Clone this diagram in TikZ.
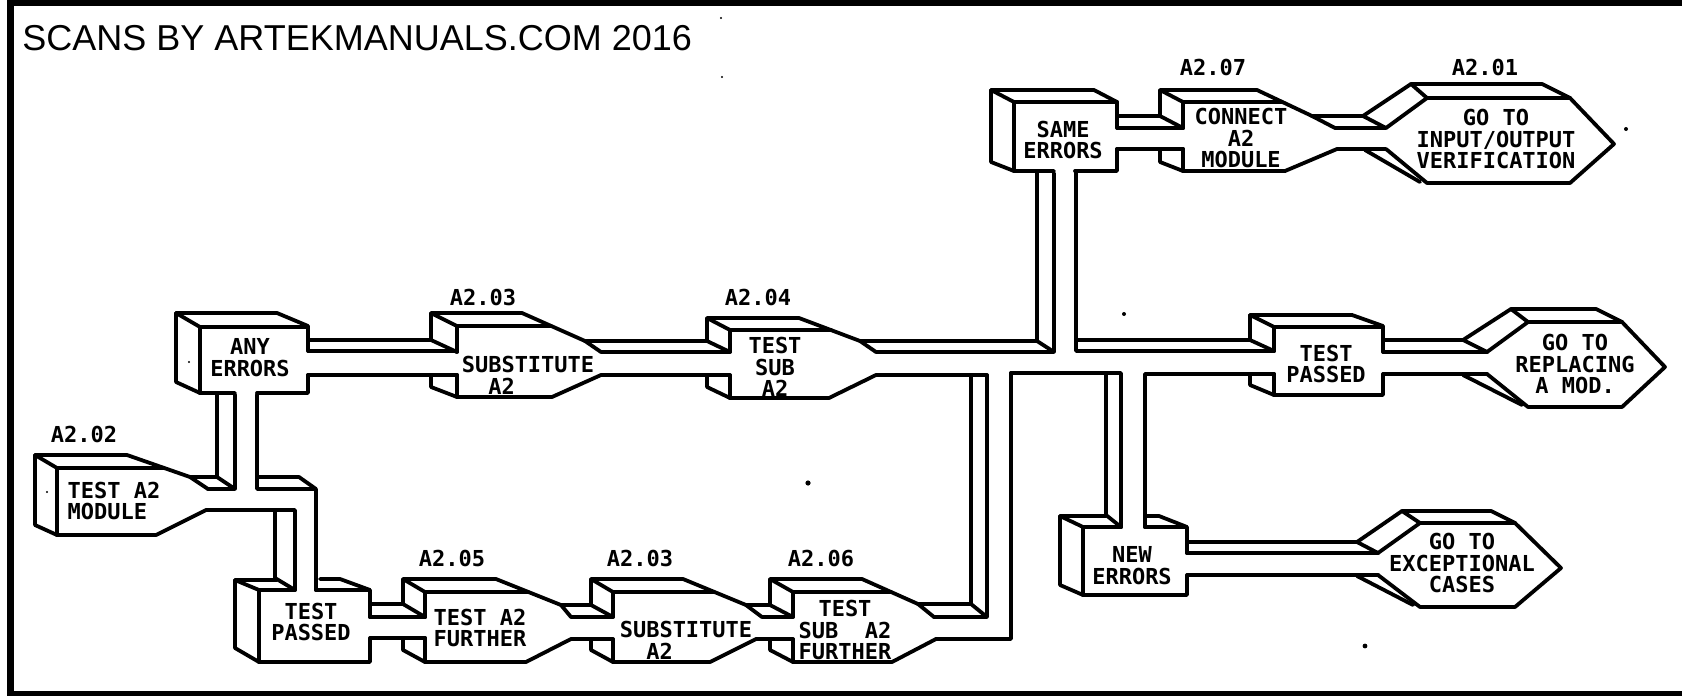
\documentclass[tikz,border=0pt]{standalone}
\usepackage{fontspec}
\setmainfont{Liberation Sans}
\newfontfamily\dotfont{DejaVu Sans Mono}
\tikzset{
  outline/.style={line width=1.9pt,line join=round,line cap=round,black},
  lbl/.style={font=\dotfont\bfseries\fontsize{11}{10.9}\selectfont,inner sep=0pt,align=center,text=black},
  lblleft/.style={lbl,align=left},
  frame/.style={fill=black,draw=none},
  speck/.style={fill=black,draw=none}
}
\begin{document}
\begin{tikzpicture}[x=0.5pt,y=-0.5pt]
\useasboundingbox (0,0) rectangle (1682,696);
% frame
\fill[frame] (7,0) rectangle (1682,6);
\fill[frame] (7,0) rectangle (14,696);
\fill[frame] (7,691) rectangle (1682,696);
\node[font=\fontsize{18}{20}\selectfont,inner sep=0pt,anchor=base west] (scan) at (22,50) {SCANS BY ARTEKMANUALS.COM 2016};

\begin{scope}[outline]
% A2.02 test module
\draw (57,468)--(35,455)--(127,455)--(190,477)--(208,489);
\draw (57,468)--(164,468);
\draw (35,455)--(35,525)--(57,535)--(156,535)--(206,510)--(295,510)--(295,590);
\draw (57,468)--(57,535);
% up to any errors
\draw (190,477)--(217,477)--(217,395);
\draw (208,489)--(235,489)--(235,395);
\draw (217,477)--(235,489);
% down to test passed (lower)
\draw (257,395)--(257,489)--(316,489)--(316,590);
\draw (257,477)--(299,477)--(316,489);
\draw (275,512)--(275,578)--(295,590);
% Any errors
\draw (200,327)--(176,313)--(277,313)--(308,326)--(308,351);
\draw (200,327)--(308,327);
\draw (176,313)--(176,382)--(200,393)--(235,393);
\draw (257,393)--(308,393)--(308,375);
\draw (200,327)--(200,393);
\draw (308,340)--(431,340);
\draw (308,351)--(457,351);
\draw (308,375)--(457,375);
% A2.03 upper
\draw (431,340)--(431,313)--(522,313)--(585,341)--(601,352)--(730,352);
\draw (431,313)--(457,326);
\draw (431,340)--(457,352);
\draw (457,326)--(457,352);
\draw (457,326)--(551,326);
\draw (431,375)--(431,387)--(457,397)--(552,397)--(601,375)--(730,375);
\draw (457,375)--(457,397);
\draw (585,341)--(707,341);
% A2.04
\draw (707,341)--(707,318)--(799,318)--(860,341)--(876,352)--(1054,352)--(1054,173);
\draw (707,318)--(730,330);
\draw (707,341)--(730,352);
\draw (730,330)--(730,352);
\draw (730,330)--(831,330);
\draw (707,375)--(707,387)--(730,398)--(829,398)--(876,375)--(987,375);
\draw (730,375)--(730,398);
\draw (860,341)--(1037,341)--(1037,173);
\draw (1037,341)--(1054,352);
% long return from A2.06
\draw (971,375)--(971,604)--(918,604);
\draw (987,375)--(987,617)--(934,617);
\draw (971,604)--(987,617);
\draw (1011,373)--(1011,639)--(936,639);
\draw (1011,373)--(1121,373)--(1121,527);
\draw (1106,375)--(1106,515)--(1121,527);
% test passed lower
\draw (259,590)--(235,580)--(277,580);
\draw (235,580)--(235,648)--(259,662)--(370,662)--(370,638);
\draw (259,590)--(295,590);
\draw (316,590)--(370,590)--(370,617);
\draw (320,579)--(340,579)--(370,590);
\draw (259,590)--(259,662);
\draw (370,604)--(403,604);
\draw (370,617)--(425,617);
\draw (370,638)--(425,638);
% A2.05
\draw (403,604)--(403,579)--(496,579)--(561,605)--(571,617)--(613,617);
\draw (403,579)--(425,592);
\draw (403,604)--(425,617);
\draw (425,592)--(425,617);
\draw (425,592)--(528,592);
\draw (403,638)--(403,650)--(425,662)--(526,662)--(571,639)--(613,639);
\draw (425,638)--(425,662);
\draw (561,605)--(591,605);
% A2.03 lower
\draw (591,605)--(591,579)--(683,579)--(746,605)--(762,617)--(793,617);
\draw (591,579)--(613,592);
\draw (591,605)--(613,617);
\draw (613,592)--(613,617);
\draw (613,592)--(714,592);
\draw (591,639)--(591,650)--(613,662)--(710,662)--(756,639)--(793,639);
\draw (613,639)--(613,662);
\draw (746,605)--(770,605);
% A2.06
\draw (770,605)--(770,579)--(862,579)--(918,604)--(934,617);
\draw (770,579)--(793,592);
\draw (770,605)--(793,617);
\draw (793,592)--(793,617);
\draw (793,592)--(891,592);
\draw (770,639)--(770,650)--(793,662)--(892,662)--(936,639);
\draw (793,639)--(793,662);
% right branch
\draw (1076,172)--(1076,351)--(1274,351);
\draw (1076,340)--(1250,340);
\draw (1145,527)--(1145,374)--(1274,374);
% same errors
\draw (1014,102)--(991,90)--(1094,90)--(1117,102)--(1117,128);
\draw (1014,102)--(1117,102);
\draw (991,90)--(991,162)--(1014,171)--(1054,171);
\draw (1075,171)--(1117,171)--(1117,149);
\draw (1014,102)--(1014,171);
\draw (1117,116)--(1160,116);
\draw (1117,128)--(1183,128);
\draw (1117,149)--(1183,149);
% A2.07
\draw (1160,116)--(1160,90)--(1257,90)--(1312,116)--(1335,128)--(1386,128);
\draw (1160,90)--(1183,102);
\draw (1160,116)--(1183,128);
\draw (1183,102)--(1183,128);
\draw (1183,102)--(1282,102);
\draw (1160,150)--(1160,162)--(1183,171)--(1285,171)--(1337,149)--(1386,149);
\draw (1183,149)--(1183,171);
\draw (1312,116)--(1363,116);
% A2.01 hex
\draw (1363,116)--(1411,84)--(1542,84)--(1570,98)--(1614,144)--(1570,183)--(1427,183)--(1386,149);
\draw (1427,98)--(1570,98);
\draw (1386,128)--(1427,98);
\draw (1411,84)--(1427,98);
\draw (1363,116)--(1386,128);
\draw (1365,150)--(1420,182);
% test passed right
\draw (1274,327)--(1250,315)--(1352,315)--(1383,326)--(1383,352);
\draw (1274,327)--(1383,327);
\draw (1250,315)--(1250,340)--(1274,351);
\draw (1274,327)--(1274,351);
\draw (1274,374)--(1274,395);
\draw (1250,374)--(1250,385)--(1274,395)--(1383,395)--(1383,374);
\draw (1383,340)--(1463,340);
\draw (1383,352)--(1487,352);
\draw (1383,374)--(1487,374);
% replacing hex
\draw (1463,340)--(1511,309)--(1596,309)--(1622,322)--(1665,367)--(1622,407)--(1528,407)--(1487,374);
\draw (1528,322)--(1622,322);
\draw (1487,352)--(1528,322);
\draw (1511,309)--(1528,322);
\draw (1463,340)--(1487,352);
\draw (1463,375)--(1522,405);
% new errors
\draw (1083,527)--(1060,516)--(1106,516);
\draw (1060,516)--(1060,585)--(1083,595)--(1187,595)--(1187,575);
\draw (1083,527)--(1121,527);
\draw (1145,527)--(1187,527)--(1187,553);
\draw (1146,516)--(1159,516)--(1187,527);
\draw (1083,527)--(1083,595);
\draw (1187,542)--(1357,542);
\draw (1187,553)--(1378,553);
\draw (1187,575)--(1378,575);
% exceptional hex
\draw (1357,542)--(1402,511)--(1491,511)--(1515,523)--(1561,568)--(1515,607)--(1420,607)--(1378,575);
\draw (1420,523)--(1515,523);
\draw (1378,553)--(1420,523);
\draw (1402,511)--(1420,523);
\draw (1357,542)--(1378,553);
\draw (1357,576)--(1413,605);
\end{scope}

% reference numbers
\node[lbl] (n1) at (84,434) {A2.02};
\node[lbl] (n2) at (483,297) {A2.03};
\node[lbl] (n3) at (758,297) {A2.04};
\node[lbl] (n4) at (452,558) {A2.05};
\node[lbl] (n5) at (640,558) {A2.03};
\node[lbl] (n6) at (821,558) {A2.06};
\node[lbl] (n7) at (1213,67) {A2.07};
\node[lbl] (n8) at (1485,67) {A2.01};
% box text
\node[lbl] (t1) at (250,358) {ANY\\ERRORS};
\node[lblleft] (t2) at (528,375) {SUBSTITUTE\\\ \ A2};
\node[lblleft] (t3) at (114,501) {TEST A2\\MODULE};
\node[lbl] (t4) at (311,622) {TEST\\PASSED};
\node[lbl] (t5) at (480,628) {TEST A2\\FURTHER};
\node[lblleft] (t6) at (686,640) {SUBSTITUTE\\\ \ A2};
\node[lbl] (t7) at (845,630) {TEST\\SUB\ \ A2\\FURTHER};
\node[lbl] (t8) at (775,367) {TEST\\SUB\\A2};
\node[lbl] (t9) at (1063,140) {SAME\\ERRORS};
\node[lbl] (t10) at (1241,138) {CONNECT\\A2\\MODULE};
\node[lbl] (t11) at (1496,139) {GO TO\\INPUT/OUTPUT\\VERIFICATION};
\node[lbl] (t12) at (1326,364) {TEST\\PASSED};
\node[lbl] (t13) at (1575,364) {GO TO\\REPLACING\\A MOD.};
\node[lbl] (t14) at (1132,566) {NEW\\ERRORS};
\node[lbl] (t15) at (1462,563) {GO TO\\EXCEPTIONAL\\CASES};
% scan specks
\fill[speck] (808,483) circle[radius=2.6];
\fill[speck] (1365,646) circle[radius=2.4];
\fill[speck] (1124,314) circle[radius=2];
\fill[speck] (1626,129) circle[radius=2];
\fill[speck] (189,362) circle[radius=1.2];
\fill[speck] (47,492) circle[radius=1.2];
\fill[speck] (722,77) circle[radius=1.2];
\fill[speck] (721,18) circle[radius=1.2];
\end{tikzpicture}
\end{document}
